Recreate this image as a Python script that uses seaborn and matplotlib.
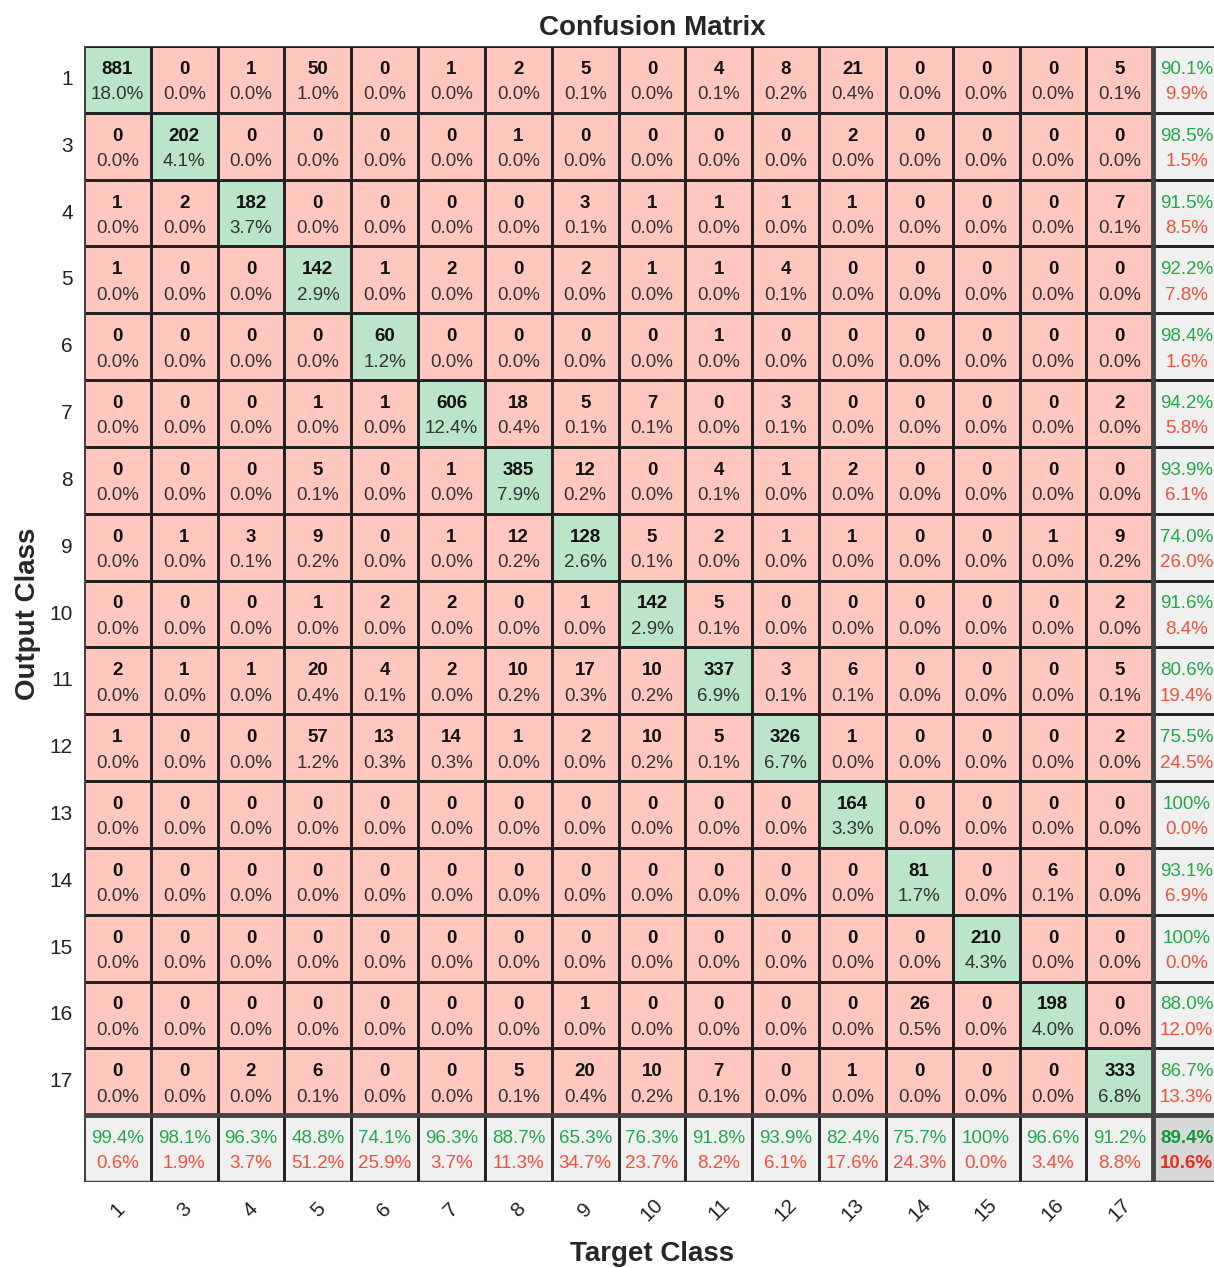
import numpy as np
import matplotlib
matplotlib.use("Agg")
import matplotlib.pyplot as plt
from matplotlib.colors import ListedColormap
import seaborn as sns

# Class labels (rows = output class, columns = target class)
classes = ["1", "3", "4", "5", "6", "7", "8", "9", "10", "11", "12", "13", "14", "15", "16", "17"]

# Confusion counts, one list per output class
row_1 = [881, 0, 1, 50, 0, 1, 2, 5, 0, 4, 8, 21, 0, 0, 0, 5]
row_3 = [0, 202, 0, 0, 0, 0, 1, 0, 0, 0, 0, 2, 0, 0, 0, 0]
row_4 = [1, 2, 182, 0, 0, 0, 0, 3, 1, 1, 1, 1, 0, 0, 0, 7]
row_5 = [1, 0, 0, 142, 1, 2, 0, 2, 1, 1, 4, 0, 0, 0, 0, 0]
row_6 = [0, 0, 0, 0, 60, 0, 0, 0, 0, 1, 0, 0, 0, 0, 0, 0]
row_7 = [0, 0, 0, 1, 1, 606, 18, 5, 7, 0, 3, 0, 0, 0, 0, 2]
row_8 = [0, 0, 0, 5, 0, 1, 385, 12, 0, 4, 1, 2, 0, 0, 0, 0]
row_9 = [0, 1, 3, 9, 0, 1, 12, 128, 5, 2, 1, 1, 0, 0, 1, 9]
row_10 = [0, 0, 0, 1, 2, 2, 0, 1, 142, 5, 0, 0, 0, 0, 0, 2]
row_11 = [2, 1, 1, 20, 4, 2, 10, 17, 10, 337, 3, 6, 0, 0, 0, 5]
row_12 = [1, 0, 0, 57, 13, 14, 1, 2, 10, 5, 326, 1, 0, 0, 0, 2]
row_13 = [0, 0, 0, 0, 0, 0, 0, 0, 0, 0, 0, 164, 0, 0, 0, 0]
row_14 = [0, 0, 0, 0, 0, 0, 0, 0, 0, 0, 0, 0, 81, 0, 6, 0]
row_15 = [0, 0, 0, 0, 0, 0, 0, 0, 0, 0, 0, 0, 0, 210, 0, 0]
row_16 = [0, 0, 0, 0, 0, 0, 0, 1, 0, 0, 0, 0, 26, 0, 198, 0]
row_17 = [0, 0, 2, 6, 0, 0, 5, 20, 10, 7, 0, 1, 0, 0, 0, 333]

cm = np.array([row_1, row_3, row_4, row_5, row_6, row_7, row_8, row_9, row_10,
               row_11, row_12, row_13, row_14, row_15, row_16, row_17])
n = len(classes)
total = cm.sum()

# Colour codes for each cell: 0 off-diagonal, 1 diagonal, 2 summary, 3 overall
codes = np.zeros((n + 1, n + 1), dtype=int)
np.fill_diagonal(codes[:n, :n], 1)
codes[n, :] = 2
codes[:, n] = 2
codes[n, n] = 3
cmap = ListedColormap(["#FFC7BE", "#BCE4C8", "#F0F0F0", "#D8D8D8"])

sns.set_theme(style="white")
plt.rcParams["font.family"] = ["Liberation Sans", "DejaVu Sans"]

W, H = 1214, 1268
fig = plt.figure(figsize=(W / 100, H / 100), dpi=100)
left, top, right, bottom = 84, 46, 1220, 1182
ax = fig.add_axes([left / W, 1 - bottom / H, (right - left) / W, (bottom - top) / H])

sns.heatmap(codes, ax=ax, cmap=cmap, vmin=-0.5, vmax=3.5, cbar=False,
            linewidths=0.8, linecolor="#222222", square=False,
            xticklabels=classes + [""], yticklabels=classes + [""])

green = "#22A84A"
red = "#F0503C"
fs = 13.5
y1, y2 = 0.35, 0.73

for i in range(n):
    for j in range(n):
        v = cm[i, j]
        ax.text(j + 0.5, i + y1, f"{v}", ha="center", va="center",
                fontsize=fs, fontweight="bold", color="#111111")
        ax.text(j + 0.5, i + y2, f"{100 * v / total:.1f}%", ha="center", va="center",
                fontsize=fs, color="#333333")


def fmt(p):
    return "100%" if round(p, 1) >= 100 else f"{p:.1f}%"


# Per output-class (row) summary
for i in range(n):
    p = 100 * cm[i, i] / cm[i].sum()
    ax.text(n + 0.5, i + y1, fmt(p), ha="center", va="center", fontsize=fs, color=green)
    ax.text(n + 0.5, i + y2, f"{100 - p:.1f}%", ha="center", va="center", fontsize=fs, color=red)

# Per target-class (column) summary
for j in range(n):
    p = 100 * cm[j, j] / cm[:, j].sum()
    ax.text(j + 0.5, n + y1, fmt(p), ha="center", va="center", fontsize=fs, color=green)
    ax.text(j + 0.5, n + y2, f"{100 - p:.1f}%", ha="center", va="center", fontsize=fs, color=red)

# Overall accuracy
acc = 100 * np.trace(cm) / total
ax.text(n + 0.5, n + y1, fmt(acc), ha="center", va="center", fontsize=fs,
        fontweight="bold", color="#109A3C")
ax.text(n + 0.5, n + y2, f"{100 - acc:.1f}%", ha="center", va="center", fontsize=fs,
        fontweight="bold", color="#E8301E")

# Heavier separators around the summary row/column and outer frame
ax.axhline(n, color="#444444", lw=3.5)
ax.axvline(n, color="#444444", lw=3.5)
ax.axhline(0, color="#444444", lw=1.5)
ax.axhline(n + 1, color="#444444", lw=2.5)
ax.axvline(0, color="#444444", lw=2.0)

ax.tick_params(axis="both", length=0)
ax.tick_params(axis="y", pad=8, labelsize=15, labelcolor="#222222")
ax.tick_params(axis="x", pad=20, labelsize=15, labelcolor="#222222")
plt.setp(ax.get_yticklabels(), rotation=0)
plt.setp(ax.get_xticklabels(), rotation=45, ha="center", va="center")

ax.set_title("Confusion Matrix", fontsize=20, fontweight="bold", pad=8)
ax.set_xlabel("Target Class", fontsize=20, fontweight="bold", va="center")
ax.xaxis.set_label_coords(0.5, -(1254 - bottom) / (bottom - top))
ax.set_ylabel("Output Class", fontsize=20, fontweight="bold", labelpad=6)

fig.savefig("out.png", dpi=100)
